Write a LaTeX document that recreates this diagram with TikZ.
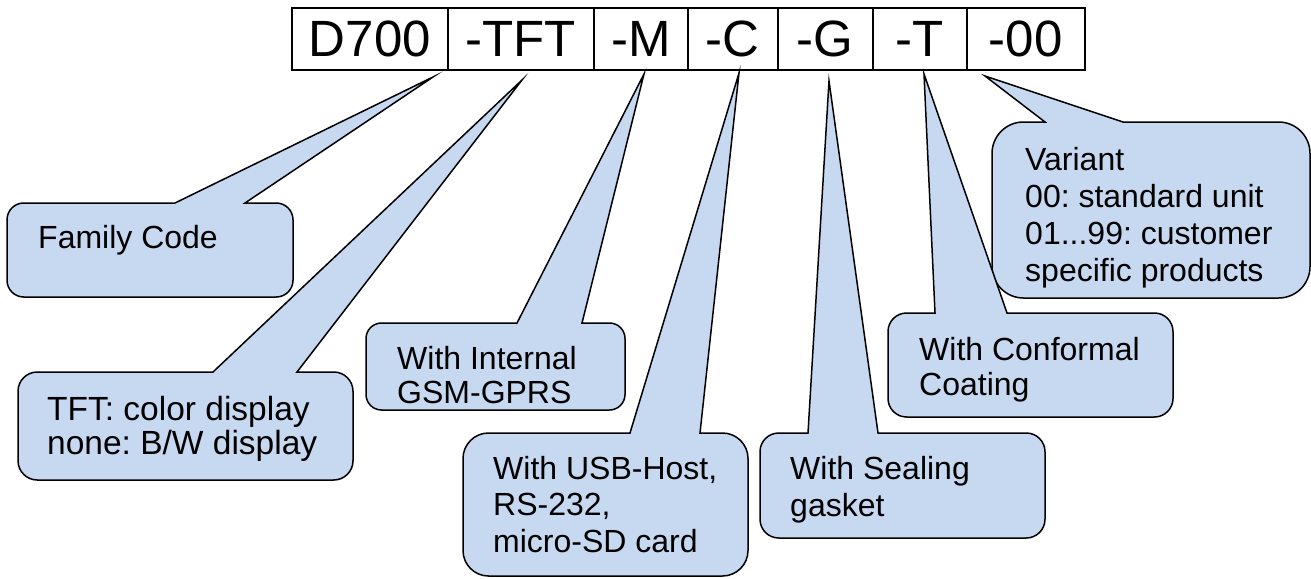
\documentclass[tikz,border=0pt]{standalone}
\usepackage{fontspec}
\setmainfont{Liberation Sans}
\frenchspacing
\definecolor{callfill}{RGB}{198,217,241}
\tikzset{
  codebox/.style={draw, line width=1.6pt, minimum height=62pt, inner sep=0pt, anchor=west,
    font=\fontsize{51}{60}\selectfont},
  calltext/.style={anchor=north west, inner sep=0pt, align=left,
    font=\fontsize{32}{37}\selectfont},
  callshape/.style={fill=callfill, draw=black, line width=1.5pt, line join=miter, miter limit=20},
}
% #1 L, #2 T, #3 R, #4 B, #5 wedge base x1, #6 wedge base x2, #7 tip coordinate
\newcommand\mycallout[7]{%
  \pgfmathsetmacro\callr{min(#3-#1,#4-#2)/5.6}%
  \draw[callshape] ({#1+\callr},#2) -- (#5,#2) -- (#7) -- (#6,#2) -- ({#3-\callr},#2)
    arc[start angle=270, end angle=360, radius=\callr] -- (#3,{#4-\callr})
    arc[start angle=0, end angle=90, radius=\callr] -- ({#1+\callr},#4)
    arc[start angle=90, end angle=180, radius=\callr] -- (#1,{#2+\callr})
    arc[start angle=180, end angle=270, radius=\callr] -- cycle;
}
\begin{document}
\begin{tikzpicture}[x=1pt, y=-1pt]
\useasboundingbox (0,0) rectangle (1311,578);

% code boxes
\node[codebox, minimum width=156pt] (d700) at (291,39) {D700};
\node[codebox, minimum width=146pt] (tft)  at (447,39) {-TFT};
\node[codebox, minimum width=94pt]  (m)    at (593,39) {-M};
\node[codebox, minimum width=90pt]  (c)    at (687,39) {-C};
\node[codebox, minimum width=95pt]  (g)    at (777,39) {-G};
\node[codebox, minimum width=94pt]  (t)    at (872,39) {-T};
\node[codebox, minimum width=118pt] (oo)   at (966,39) {-00};

% wedge tips
\coordinate (tipfam) at (433,77);
\coordinate (tiptft) at (522,80);
\coordinate (tipm)   at (644,74);
\coordinate (tipc)   at (739,73);
\coordinate (tipg)   at (829,81);
\coordinate (tipt)   at (924,74);
\coordinate (tipoo)  at (985,76);

% callouts
\mycallout{7}{203}{293}{297}{175}{245}{tipfam}
\mycallout{18}{372}{353}{480}{213}{297}{tiptft}
\mycallout{366}{323}{625}{410}{517}{582}{tipm}
\mycallout{463}{433}{748}{576}{630}{700}{tipc}
\mycallout{760}{433}{1045}{538}{808}{878}{tipg}
\mycallout{992}{122}{1310}{298}{1045}{1123}{tipoo}
\mycallout{888}{313}{1173}{417}{935}{1007}{tipt}

% texts
\node[calltext] (famtxt)  at (38,225)  {Family Code};
\node[calltext, font=\fontsize{33.5}{34}\selectfont] (tfttxt) at (47,396) {TFT: color display\\none: B/W display};
\node[calltext, font=\fontsize{32}{34}\selectfont] (gsmtxt) at (397,346) {With Internal\\GSM-GPRS};
\node[calltext, font=\fontsize{32}{36.5}\selectfont] (usbtxt) at (493,456) {With USB-Host,\\RS-232,\\micro-SD card};
\node[calltext] (sealtxt) at (790,456) {With Sealing\\gasket};
\node[calltext, font=\fontsize{32}{35.5}\selectfont] (conftxt) at (919,337) {With Conformal\\Coating};
\node[calltext] (vartxt)  at (1025,147) {Variant\\00: standard unit\\01...99: customer\\specific products};
\end{tikzpicture}
\end{document}
